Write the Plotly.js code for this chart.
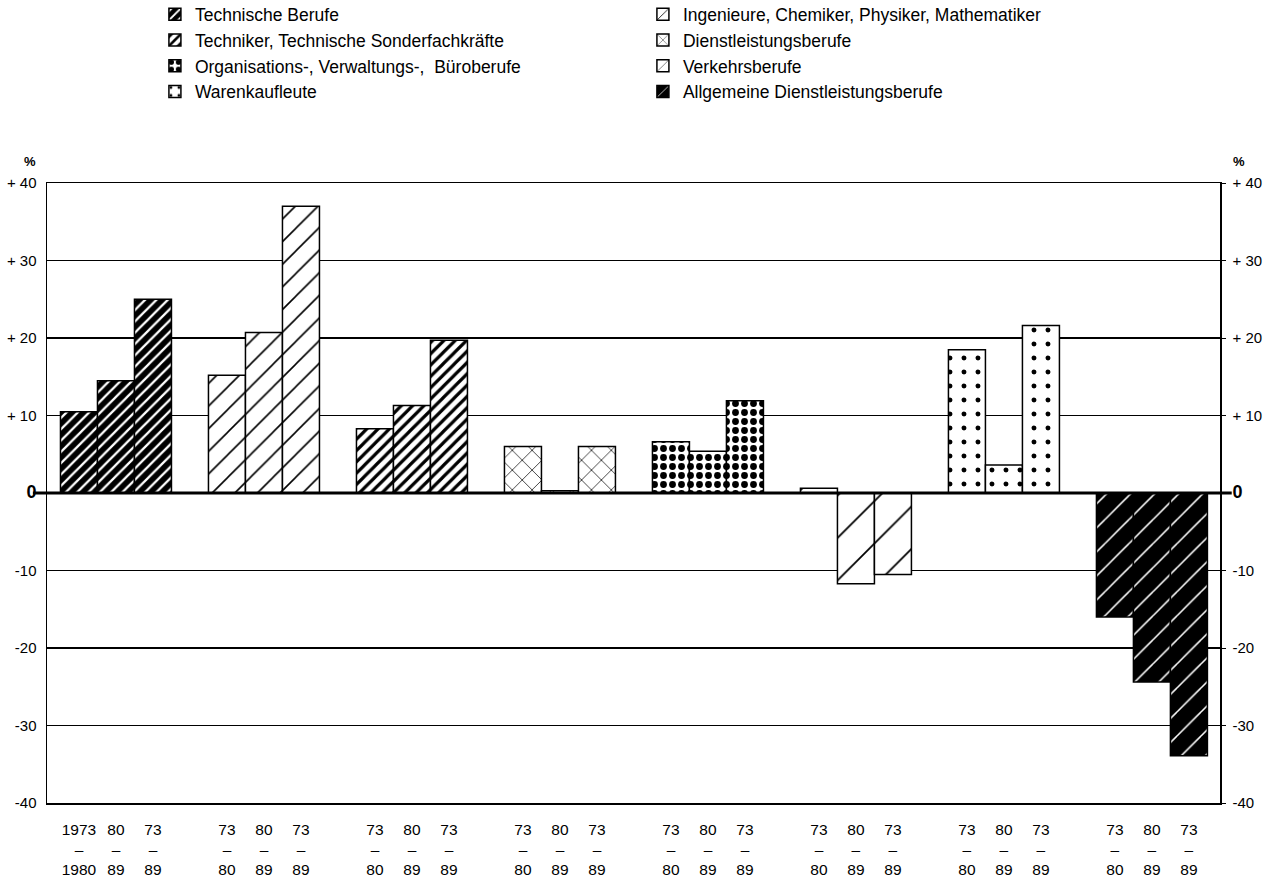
<!DOCTYPE html>
<html><head><meta charset="utf-8">
<script src="https://cdn.plot.ly/plotly-3.0.1.min.js"></script>
<style>html,body{margin:0;padding:0;background:#fff}#chart{width:1269px;height:880px}</style>
</head><body><div id="chart"></div>
<script>
// Occupational groups in chart order
const occupations = [
  "Technische Berufe",
  "Ingenieure, Chemiker, Physiker, Mathematiker",
  "Techniker, Technische Sonderfachkräfte",
  "Dienstleistungsberufe",
  "Organisations-, Verwaltungs-,  Büroberufe",
  "Verkehrsberufe",
  "Warenkaufleute",
  "Allgemeine Dienstleistungsberufe"
];
// Periods (tick labels): 1973–1980, 1980–1989, 1973–1989
const periodTop = ["73", "80", "73"];
const periodBottom = ["80", "89", "89"];
const firstPeriodTop = ["1973", "80", "73"];
const firstPeriodBottom = ["1980", "89", "89"];

// Change in % per period
const technischeBerufe = [10.5, 14.5, 25.0];
const ingenieure = [15.2, 20.7, 37.0];
const techniker = [8.3, 11.3, 19.7];
const dienstleistungsberufe = [6.0, 0.3, 6.0];
const organisationsberufe = [6.6, 5.4, 11.9];
const verkehrsberufe = [0.6, -11.7, -10.5];
const warenkaufleute = [18.5, 3.6, 21.6];
const allgDienstleistungsberufe = [-16.0, -24.4, -33.9];

const seriesValues = [technischeBerufe, ingenieure, techniker, dienstleistungsberufe,
  organisationsberufe, verkehrsberufe, warenkaufleute, allgDienstleistungsberufe];

const yTickVals = [-40, -30, -20, -10, 0, 10, 20, 30, 40];
const yTickText = ["-40", "-30", "-20", "-10", "<span style='font-size:18px'><b>0</b></span>", "+ 10", "+ 20", "+ 30", "+ 40"];

// Styles (patterns) per occupation
const patterns = [
  {shape: "/", bgcolor: "#000", fgcolor: "#fff", size: 8, solidity: 0.28},
  {shape: "/", bgcolor: "#fff", fgcolor: "#000", size: 16, solidity: 0.1},
  {shape: "/", bgcolor: "#fff", fgcolor: "#000", size: 8, solidity: 0.4},
  {shape: "x", bgcolor: "#fff", fgcolor: "#000", size: 14, solidity: 0.1},
  {shape: ".", bgcolor: "#fff", fgcolor: "#000", size: 9, solidity: 0.45},
  {shape: "/", bgcolor: "#fff", fgcolor: "#000", size: 30, solidity: 0.06},
  {shape: ".", bgcolor: "#fff", fgcolor: "#000", size: 14, solidity: 0.1},
  {shape: "/", bgcolor: "#000", fgcolor: "#fff", size: 17, solidity: 0.09}
];

const barW = 0.25;
const traces = [];
const tickVals = [];
const tickText = [];
occupations.forEach((name, k) => {
  const xs = [0, 1, 2].map(j => k + (j - 1) * barW);
  xs.forEach((x, j) => {
    tickVals.push(x);
    const t = k === 0 ? firstPeriodTop[j] : periodTop[j];
    const b = k === 0 ? firstPeriodBottom[j] : periodBottom[j];
    tickText.push(t + "<br>–<br>" + b);
  });
  const p = patterns[k];
  traces.push({
    type: "bar",
    name: name,
    x: xs,
    y: seriesValues[k],
    width: barW,
    marker: {
      color: p.bgcolor,
      line: {color: "#000", width: 1.5},
      pattern: {shape: p.shape, bgcolor: p.bgcolor, fgcolor: p.fgcolor, size: p.size, solidity: p.solidity, fillmode: "replace"}
    },
    hoverinfo: "x+y"
  });
});
// empty helper trace so that the right-hand axis is drawn
traces.push({type: "scatter", x: [], y: [], yaxis: "y2", showlegend: false, hoverinfo: "skip"});

const font = "Liberation Sans, Arial, Helvetica, sans-serif";
const layout = {
  width: 1269, height: 880,
  paper_bgcolor: "#fff", plot_bgcolor: "#fff",
  font: {family: font, color: "#000", size: 15},
  margin: {l: 47, r: 49, t: 183, b: 77, autoexpand: false},
  showlegend: true,
  legend: {
    orientation: "h", xref: "paper", yref: "paper",
    x: 0.092, y: 1.301, xanchor: "left", yanchor: "top",
    entrywidth: 443, entrywidthmode: "pixels",
    font: {family: font, size: 17.5, color: "#000"},
    traceorder: "normal", bgcolor: "rgba(0,0,0,0)"
  },
  xaxis: {
    range: [-0.466, 7.46], showgrid: false, zeroline: false,
    showline: true, mirror: true, linecolor: "#000", linewidth: 1.5,
    tickmode: "array", tickvals: tickVals, ticktext: tickText,
    ticks: "", tickfont: {family: font, size: 15.5}, ticklabelstandoff: 12
  },
  yaxis: {
    range: [-40, 40], tickmode: "array", tickvals: yTickVals, ticktext: yTickText,
    showgrid: true, gridcolor: "#000", gridwidth: 1.5, zeroline: false,
    showline: true, linecolor: "#000", linewidth: 1.5, ticks: "",
    tickfont: {family: font, size: 15}, ticklabelstandoff: 6
  },
  yaxis2: {
    range: [-40, 40], overlaying: "y", side: "right", anchor: "x",
    tickmode: "array", tickvals: yTickVals, ticktext: yTickText,
    showgrid: false, zeroline: false, showline: true, linecolor: "#000", linewidth: 1.5,
    ticks: "outside", ticklen: 4, tickcolor: "#000",
    tickfont: {family: font, size: 15}, ticklabelstandoff: 4
  },
  shapes: [
    {type: "line", xref: "paper", yref: "y", x0: -0.012, x1: 1.01, y0: 0, y1: 0,
     line: {color: "#000", width: 3}, layer: "above"}
  ],
  annotations: [
    {text: "<b>%</b>", xref: "paper", yref: "paper", x: -0.021, y: 1.034, yanchor: "middle", showarrow: false, font: {size: 13}},
    {text: "<b>%</b>", xref: "paper", yref: "paper", x: 1.023, y: 1.034, yanchor: "middle", showarrow: false, font: {size: 13}}
  ]
};

Plotly.newPlot("chart", traces, layout, {displayModeBar: false, staticPlot: true});
</script>
</body></html>
